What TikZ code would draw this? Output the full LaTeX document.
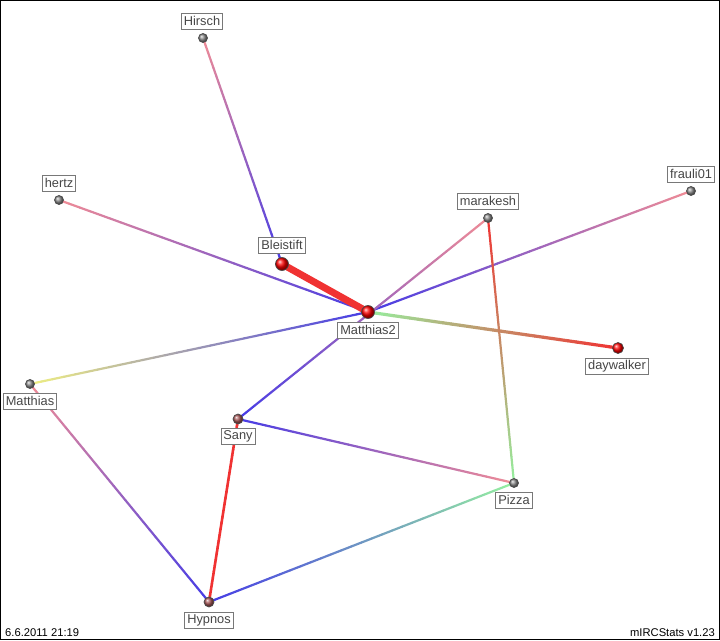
\documentclass[tikz,border=0pt]{standalone}
\usepackage{fontspec}
\setmainfont{Liberation Sans}
\usetikzlibrary{calc,backgrounds}

\definecolor{pinkend}{RGB}{240,140,150}
\definecolor{blueend}{RGB}{70,60,230}
\definecolor{redend}{RGB}{240,50,50}
\definecolor{greenend}{RGB}{150,240,160}
\definecolor{yellowend}{RGB}{240,240,130}
\definecolor{brownball}{RGB}{165,85,85}
\definecolor{labtext}{RGB}{70,70,70}
\definecolor{labframe}{RGB}{120,120,120}

% edge whose colour runs from #3 at (#1) to #4 at (#2)
\newcommand{\gradedge}[5]{%
  \foreach \k in {0,...,29}{
    \pgfmathsetmacro\mix{100-(\k+0.5)*100/30}
    \colorlet{segcol}{#3!\mix!#4}
    \draw[line width=#5, draw=segcol, line cap=round]
      ($(#1.center)!{\k/30}!(#2.center)$) -- ($(#1.center)!{(\k+1)/30}!(#2.center)$);
  }}

\begin{document}
\begin{tikzpicture}[
  x=1pt, y=-1pt,
  font=\fontsize{12.8}{14}\selectfont,
  user/.style={circle, inner sep=0pt, minimum size=9pt, draw=black!70, line width=0.7pt,
    shading=ball, ball color=gray!90},
  hot/.style={user, minimum size=13pt, ball color=red},
  warm/.style={user, minimum size=11pt, ball color=red},
  mid/.style={user, minimum size=10pt, ball color=brownball},
  nick/.style={draw=labframe, fill=white, text=labtext, inner xsep=2.5pt, inner ysep=1pt,
    line width=0.8pt, minimum height=16pt},
  stamp/.style={font=\fontsize{11.2}{12}\selectfont, text=black, inner sep=0pt}
]
\useasboundingbox (0,0) rectangle (720,640);

% users
\node[user] (hirsch) at (203,38) {};
\node[user] (hertz) at (59,200) {};
\node[hot] (bleistift) at (282,264) {};
\node[hot] (matthias2) at (368,312) {};
\node[user] (marakesh) at (488,218) {};
\node[user] (frauli) at (691,191) {};
\node[warm] (daywalker) at (618,348) {};
\node[user] (matthias) at (30,384) {};
\node[mid] (sany) at (238,419) {};
\node[user] (pizza) at (514,483) {};
\node[mid] (hypnos) at (209,602) {};

% relations
\begin{scope}[on background layer]
\gradedge{hirsch}{bleistift}{pinkend}{blueend}{2.2pt}
\gradedge{hertz}{matthias2}{pinkend}{blueend}{2.2pt}
\gradedge{frauli}{matthias2}{pinkend}{blueend}{2.2pt}
\gradedge{marakesh}{sany}{pinkend}{blueend}{2.2pt}
\gradedge{matthias}{matthias2}{yellowend}{blueend}{2.2pt}
\gradedge{matthias2}{daywalker}{greenend}{redend}{3.2pt}
\gradedge{marakesh}{pizza}{redend}{greenend}{2.2pt}
\gradedge{sany}{pizza}{blueend}{pinkend}{2.2pt}
\gradedge{matthias}{hypnos}{pinkend}{blueend}{2.2pt}
\gradedge{pizza}{hypnos}{greenend}{blueend}{2.2pt}
\gradedge{sany}{hypnos}{redend}{redend}{2.6pt}
\draw[line width=7pt, draw=redend] (bleistift.center) -- (matthias2.center);
\end{scope}

% nicknames
\node[nick] (hirschlab) at (202,21) {Hirsch};
\node[nick] (hertzlab) at (59,183) {hertz};
\node[nick] (bleistiftlab) at (282,245) {Bleistift};
\node[nick] (matthias2lab) at (368,330) {Matthias2};
\node[nick] (marakeshlab) at (488,201) {marakesh};
\node[nick] (fraulilab) at (691,174) {frauli01};
\node[nick] (daywalkerlab) at (617,366) {daywalker};
\node[nick] (matthiaslab) at (30,401) {Matthias};
\node[nick] (sanylab) at (238,436) {Sany};
\node[nick] (pizzalab) at (514,500) {Pizza};
\node[nick] (hypnoslab) at (209,620) {Hypnos};

\node[stamp, anchor=base west] (date) at (5,636) {6.6.2011 21:19};
\node[stamp, anchor=base east] (version) at (715,636) {mIRCStats v1.23};

\draw[black, line width=1pt] (0.5,0.5) rectangle (719.5,639.5);
\end{tikzpicture}
\end{document}
